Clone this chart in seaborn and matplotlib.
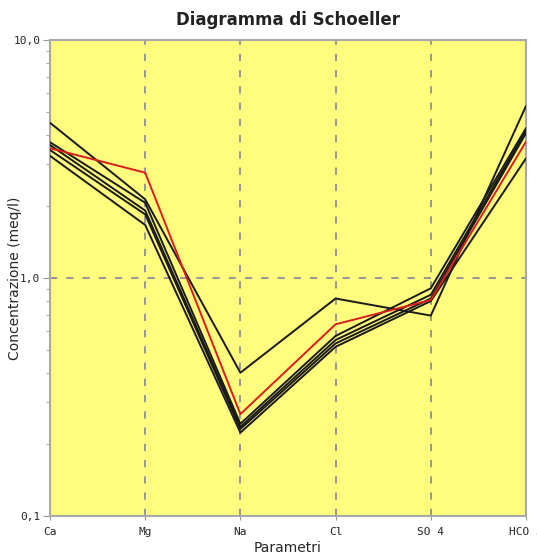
import matplotlib
matplotlib.use("Agg")
import matplotlib.pyplot as plt
import seaborn as sns
import pandas as pd
import numpy as np
from matplotlib.ticker import FixedLocator, LogLocator, NullFormatter

params = ["Ca", "Mg", "Na", "Cl", "SO 4", "HCO 3"]
s1 = [4.49, 2.14, 0.40, 0.82, 0.695, 5.28]
s2 = [3.72, 2.07, 0.244, 0.571, 0.905, 4.26]
s3 = [3.62, 1.92, 0.237, 0.549, 0.85, 4.16]
s4 = [3.45, 1.85, 0.232, 0.531, 0.82, 4.06]
s5 = [3.26, 1.67, 0.224, 0.514, 0.80, 3.18]
s6 = [3.51, 2.77, 0.268, 0.639, 0.808, 3.74]
series = {"c1": s1, "c2": s2, "c3": s3, "c4": s4, "c5": s5, "c6": s6}
colors = {"c1": "#1a1a1a", "c2": "#1a1a1a", "c3": "#1a1a1a", "c4": "#1a1a1a",
          "c5": "#1a1a1a", "c6": "#d81e1e"}
yticks = [0.1, 1.0, 10.0]
ytick_labels = ["0,1", "1,0", "10,0"]

rows = []
for name, vals in series.items():
    for i, v in enumerate(vals):
        rows.append({"pos": i, "val": v, "s": name})
df = pd.DataFrame(rows)

sns.set_style("white")
plt.rcParams["font.family"] = ["DejaVu Sans"]

fig = plt.figure(figsize=(5.37, 5.55), dpi=100)
ax = fig.add_axes([50/537, 1-516/555, 476/537, 476/555])
ax.set_facecolor("#fffc7e")

ax.set_yscale("log")
ax.set_ylim(0.1, 10)
ax.set_xlim(0, len(params)-1)

# grid
for i in range(1, len(params)-1):
    ax.axvline(i, color="#8e8e9c", lw=1.3, ls=(0, (4, 5)), zorder=1)
ax.axhline(1.0, color="#8e8e9c", lw=1.3, ls=(0, (4, 5)), zorder=1)

sns.lineplot(data=df, x="pos", y="val", hue="s", palette=colors, units="s",
             estimator=None, sort=False, legend=False, lw=1.4, ax=ax, zorder=3)

ax.set_xticks(range(len(params)))
ax.set_xticklabels(params, fontsize=8, family="DejaVu Sans Mono")
ax.yaxis.set_major_locator(FixedLocator(yticks))
ax.set_yticklabels(ytick_labels, fontsize=8, family="DejaVu Sans Mono")
ax.yaxis.set_minor_locator(LogLocator(base=10, subs=np.arange(2, 10)))
ax.yaxis.set_minor_formatter(NullFormatter())
ax.tick_params(axis="y", which="major", length=5, color="#999999", pad=2, left=True)
ax.tick_params(axis="y", which="minor", length=3, color="#999999", left=True)
ax.tick_params(axis="x", length=3, color="#999999", pad=5, bottom=True)

for sp in ax.spines.values():
    sp.set_color("#a8a8a8")
    sp.set_linewidth(1.5)
    sp.set_visible(True)

ax.set_xlabel("Parametri", fontsize=10)
ax.xaxis.set_label_coords(0.5, -(548-516)/476, transform=ax.transAxes)
ax.xaxis.label.set_va("center")
ax.set_ylabel("Concentrazione (meq/l)", fontsize=10)
ax.yaxis.set_label_coords(-(50-15)/476, 0.5)
ax.yaxis.label.set_va("center")
fig.text(288/537, 1-20/555, "Diagramma di Schoeller", ha="center", va="center",
         fontsize=12, fontweight="bold", color="#222222")

fig.savefig("out.png", dpi=100, facecolor="white")
